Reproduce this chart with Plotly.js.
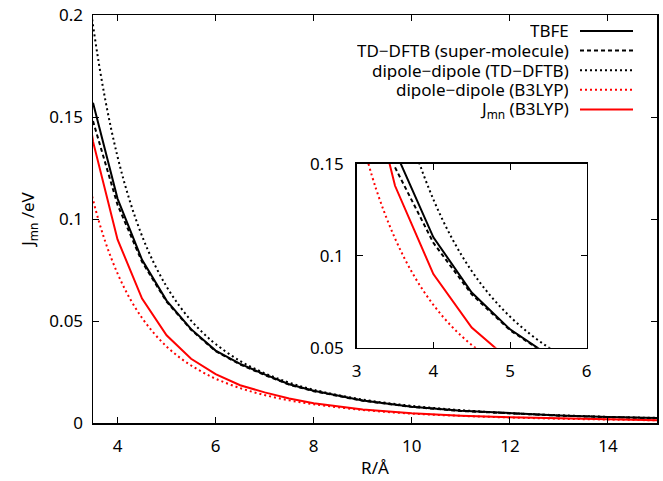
<!DOCTYPE html>
<html>
<head>
<meta charset="utf-8">
<script src="https://cdn.plot.ly/plotly-3.0.1.min.js"></script>
<style>html,body{margin:0;padding:0;background:#fff;}#chart{width:663px;height:481px;}</style>
</head>
<body>
<div id="chart"></div>
<script>
// R values (Å)
var R_calc = [3.5, 4, 4.5, 5, 5.5, 6, 6.5, 7, 7.5, 8, 9, 10, 11, 12, 13, 14, 15];
var R_red = [3.0, 3.5, 4, 4.5, 5, 5.5, 6, 6.5, 7, 7.5, 8, 9, 10, 11, 12, 13, 14, 15];
var R_dip = [3.0, 3.25, 3.5, 3.75, 4, 4.25, 4.5, 4.75, 5, 5.25, 5.5, 5.75, 6, 6.5, 7, 7.5, 8, 9, 10, 11, 12, 13, 14, 15];

// Coupling values (eV)
var tbfe = [0.157, 0.110, 0.080, 0.060, 0.046, 0.0355, 0.029, 0.0238, 0.019, 0.0158, 0.011, 0.0080, 0.0060, 0.0047, 0.0037, 0.0030, 0.0024];
var tddftb = [0.148, 0.107, 0.079, 0.0595, 0.0457, 0.0352, 0.0287, 0.0235, 0.0188, 0.0156, 0.0109, 0.0079, 0.0059, 0.0046, 0.0036, 0.0029, 0.0023];
var dipTDDFTB = [0.310, 0.2435, 0.195, 0.1585, 0.1306, 0.1089, 0.0917, 0.0780, 0.0669, 0.0578, 0.0502, 0.0440, 0.0387, 0.0304, 0.0244, 0.0198, 0.0163, 0.0115, 0.0084, 0.0063, 0.0048, 0.0038, 0.0030, 0.0025];
var dipB3LYP = [0.1737, 0.1366, 0.1094, 0.0889, 0.0733, 0.0611, 0.0515, 0.0438, 0.0375, 0.0324, 0.0282, 0.0247, 0.0217, 0.0171, 0.0137, 0.0111, 0.0092, 0.0064, 0.0046, 0.0035, 0.0027, 0.0021, 0.0017, 0.0013];
var jmnB3LYP = [0.222, 0.138, 0.090, 0.061, 0.043, 0.0315, 0.024, 0.0185, 0.015, 0.012, 0.0097, 0.0066, 0.0048, 0.0036, 0.0028, 0.0022, 0.0018, 0.0014];

var legendLabels = ["TBFE", "TD\u2212DFTB (super-molecule)", "dipole\u2212dipole (TD\u2212DFTB)", "dipole\u2212dipole (B3LYP)", "J<sub>mn</sub> (B3LYP)"];
var xTitle = "R/\u00c5";
var yTitle = "J<sub>mn</sub> /eV";

var FONT = "Noto Sans, Open Sans, sans-serif";
var FS = 17;
var DASH = "4px,3px";
var DOT = "2px,3px";

var series = [
  {x: R_calc, y: tbfe, color: "#000000", dash: "solid"},
  {x: R_calc, y: tddftb, color: "#000000", dash: DASH},
  {x: R_dip, y: dipTDDFTB, color: "#000000", dash: DOT},
  {x: R_dip, y: dipB3LYP, color: "#ff0000", dash: DOT},
  {x: R_red, y: jmnB3LYP, color: "#ff0000", dash: "solid"}
];

var traces = [];
["", "2"].forEach(function(ax) {
  series.forEach(function(s, i) {
    traces.push({
      x: s.x, y: s.y, type: "scatter", mode: "lines",
      xaxis: "x" + ax, yaxis: "y" + ax,
      line: {color: s.color, width: 2, dash: s.dash, shape: (s.dash === DOT ? "spline" : "linear")},
      showlegend: false, hoverinfo: "skip", cliponaxis: true
    });
  });
});

// Custom gnuplot-style legend: right aligned text, sample on the right
var shapes = [], annotations = [];
var legY0 = 31, legStep = 19.6;
series.forEach(function(s, i) {
  var ypx = legY0 + i * legStep;
  annotations.push({
    xref: "paper", yref: "paper", x: (569.5 - 93) / 564, y: (423 - ypx) / 408,
    xanchor: "right", yanchor: "middle", showarrow: false, height: 19, borderpad: 0,
    text: legendLabels[i], font: {family: FONT, size: FS, color: "#000"}
  });
  shapes.push({
    type: "line", xref: "paper", yref: "paper",
    x0: (580 - 93) / 564, x1: (633 - 93) / 564,
    y0: (423 - ypx) / 408, y1: (423 - ypx) / 408,
    line: {color: s.color, width: 2, dash: s.dash}
  });
});

var axisCommon = {
  showline: true, linecolor: "#000", linewidth: 1.5, mirror: "allticks",
  ticks: "inside", ticklen: 6, tickwidth: 1, tickcolor: "#000",
  showgrid: false, zeroline: false,
  tickfont: {family: FONT, size: FS, color: "#000"}
};

var layout = {
  width: 663, height: 481,
  margin: {l: 93, r: 6, t: 15, b: 58},
  paper_bgcolor: "#fff", plot_bgcolor: "#fff",
  font: {family: FONT, size: FS, color: "#000"},
  showlegend: false,
  xaxis: Object.assign({}, axisCommon, {
    range: [3.5, 15], tickvals: [4, 6, 8, 10, 12, 14], ticklabelstandoff: 7,
    title: {text: xTitle, font: {family: FONT, size: FS}, standoff: 6}
  }),
  yaxis: Object.assign({}, axisCommon, {
    range: [0, 0.2], tickvals: [0, 0.05, 0.1, 0.15, 0.2], ticktext: ["0", "0.05", "0.1", "0.15", "0.2"], ticklabelstandoff: 5,
    title: {text: yTitle, font: {family: FONT, size: FS}, standoff: 10}
  }),
  xaxis2: Object.assign({}, axisCommon, {
    domain: [(356.7 - 93) / 564, (586.7 - 93) / 564], anchor: "y2",
    range: [3, 6], tickvals: [3, 4, 5, 6], ticklabelstandoff: 7
  }),
  yaxis2: Object.assign({}, axisCommon, {
    domain: [(423 - 347.7) / 408, (423 - 163.7) / 408], anchor: "x2",
    range: [0.05, 0.15], tickvals: [0.05, 0.1, 0.15], ticktext: ["0.05", "0.1", "0.15"], ticklabelstandoff: 8
  }),
  shapes: shapes,
  annotations: annotations
};

Plotly.newPlot("chart", traces, layout, {staticPlot: true, displayModeBar: false});
</script>
</body>
</html>
